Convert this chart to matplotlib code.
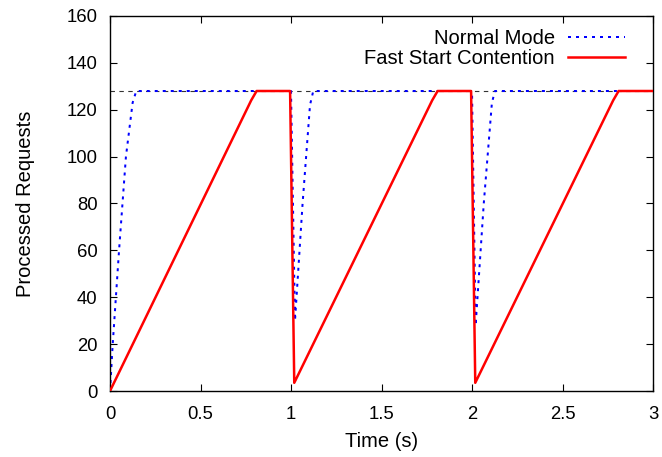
import matplotlib
matplotlib.use("Agg")
import matplotlib.pyplot as plt

# Data
normal_t = [0, 0.015, 0.05, 0.088, 0.125, 0.145, 1.0, 1.022, 1.064, 1.105, 1.123, 2.0, 2.02, 2.065, 2.11, 2.127, 3.0]
normal_y = [0, 20, 60, 100, 123, 128, 128, 30, 80, 122, 128, 128, 28, 80, 123, 128, 128]

fast_t = [0, 0.78, 0.81, 0.995, 1.018, 1.78, 1.81, 1.995, 2.018, 2.78, 2.81, 3.0]
fast_y = [0, 124, 128, 128, 3.5, 124, 128, 128, 3.5, 124, 128, 128]

cap_t = [0, 3]
cap_y = [128, 128]

xticks = [0, 0.5, 1, 1.5, 2, 2.5, 3]
xticklabels = ["0", "0.5", "1", "1.5", "2", "2.5", "3"]
yticks = [0, 20, 40, 60, 80, 100, 120, 140, 160]

plt.rcParams['font.family'] = ['Liberation Sans', 'DejaVu Sans']
label_fs = 14.5
tick_fs = 13.3

fig = plt.figure(figsize=(6.62, 4.57), dpi=100)
ax = fig.add_axes([110/662, 66/457, (653-110)/662, (391-16)/457])

ax.plot(cap_t, cap_y, color='#333333', lw=0.8, linestyle=(0, (4, 4)), zorder=1)
ax.plot(normal_t, normal_y, color='#0000ff', lw=1.44, linestyle=(0, (1.5, 2.5)),
        label='Normal Mode', zorder=2)
ax.plot(fast_t, fast_y, color='#ff0000', lw=1.8, label='Fast Start Contention', zorder=3)

ax.set_xlim(0, 3)
ax.set_ylim(0, 160)
ax.set_xticks(xticks)
ax.set_xticklabels(xticklabels)
ax.set_yticks(yticks)
ax.tick_params(direction='in', length=5, width=0.8, top=True, right=True,
               labelsize=tick_fs)
ax.tick_params(axis='x', pad=11)
ax.tick_params(axis='y', pad=9)
for s in ax.spines.values():
    s.set_linewidth(1.0)

ax.set_xlabel('Time (s)', fontsize=label_fs, labelpad=6)
ax.set_ylabel('Processed Requests', fontsize=label_fs, labelpad=23)

leg = ax.legend(loc='upper right', bbox_to_anchor=(0.948, 0.966), frameon=False,
                markerfirst=False, handlelength=2.83, handletextpad=0.65,
                labelspacing=0.08, borderaxespad=0.0, borderpad=0.0,
                fontsize=label_fs)

fig.savefig('out.png', dpi=100)
